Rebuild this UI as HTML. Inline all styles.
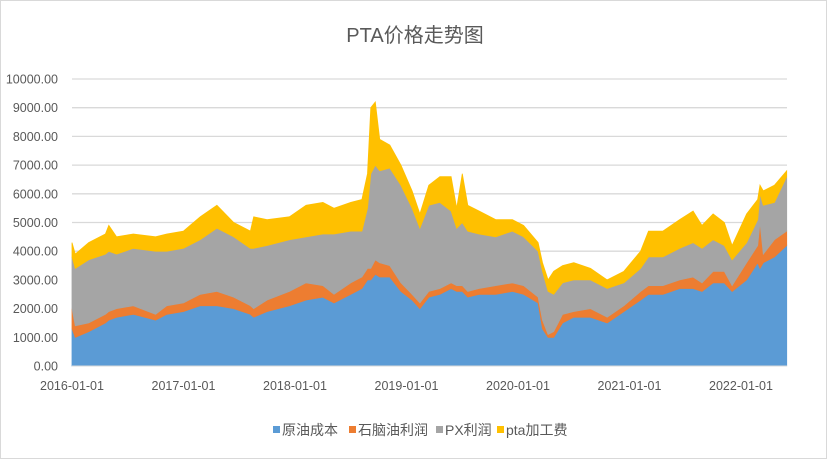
<!DOCTYPE html>
<html><head><meta charset="utf-8"><style>
html,body{margin:0;padding:0;background:#fff;}
#wrap{position:relative;width:832px;height:460px;overflow:hidden;font-family:"Liberation Sans","Noto Sans CJK SC",sans-serif;}
</style></head><body>
<div id="wrap">
<svg id="chart" width="832" height="460" xmlns="http://www.w3.org/2000/svg">
<rect x="0.5" y="0.5" width="826" height="458" fill="#fff" stroke="#d9d9d9"/>
<text x="415" y="42" text-anchor="middle" font-size="20" fill="#595959" font-family="Liberation Sans, Noto Sans CJK SC, sans-serif">PTA价格走势图</text>
<g id="grid"></g>
<g id="areas"></g>
<g id="yaxis"></g>
<g id="xaxis"></g>
<g id="legend"></g>
</svg>
</div>
<script>
const times = [2016.00,2016.03,2016.15,2016.3,2016.33,2016.4,2016.55,2016.75,2016.85,2017.0,2017.15,2017.3,2017.45,2017.6,2017.63,2017.75,2017.95,2018.1,2018.25,2018.35,2018.5,2018.6,2018.65,2018.68,2018.72,2018.76,2018.85,2018.95,2019.05,2019.12,2019.2,2019.3,2019.4,2019.45,2019.5,2019.55,2019.65,2019.8,2019.95,2020.05,2020.18,2020.22,2020.27,2020.32,2020.4,2020.5,2020.65,2020.8,2020.95,2021.1,2021.17,2021.3,2021.45,2021.57,2021.65,2021.75,2021.85,2021.92,2022.05,2022.15,2022.17,2022.2,2022.3,2022.41];
const crudeCost = [1300,1000,1200,1500,1600,1700,1800,1600,1800,1900,2100,2100,2000,1800,1700,1900,2100,2300,2400,2200,2500,2700,3000,3000,3200,3100,3100,2600,2300,2000,2400,2500,2700,2600,2600,2400,2500,2500,2600,2500,2200,1300,1000,1000,1500,1700,1700,1500,1900,2300,2500,2500,2700,2700,2600,2900,2900,2600,3000,3600,3400,3600,3800,4200];
const naphthaProfit = [700,400,300,300,300,300,300,200,300,300,400,500,400,300,300,400,500,600,400,300,400,400,400,400,500,500,400,300,200,200,200,200,200,200,200,200,200,300,300,300,200,300,100,200,300,200,300,200,200,300,300,300,300,400,300,400,400,200,600,600,1600,300,600,500];
const pxProfit = [1800,2000,2200,2100,2100,1900,2000,2200,1900,1900,1900,2200,2100,2000,2100,1900,1800,1600,1800,2100,1800,1600,2100,3300,3300,3200,3400,3400,3000,2600,3000,3000,2500,2000,2200,2100,1900,1700,1800,1700,1600,1700,1500,1300,1100,1100,1000,1000,800,800,1000,1000,1100,1200,1200,1100,900,900,700,900,1000,1700,1300,1900];
const ptaFee = [500,500,600,700,900,600,500,500,600,600,800,800,500,600,1100,900,800,1100,1100,900,1000,1100,1200,2300,2200,1100,800,700,600,500,700,900,1200,700,1700,900,800,600,400,400,300,300,400,800,600,600,400,300,400,600,900,900,1000,1100,800,900,800,500,1000,700,300,500,600,200];
const yTicks = [0,1000,2000,3000,4000,5000,6000,7000,8000,9000,10000];
const xTickLabels = ["2016-01-01","2017-01-01","2018-01-01","2019-01-01","2020-01-01","2021-01-01","2022-01-01"];
const xTickYears = [2016,2017,2018,2019,2020,2021,2022];
const seriesNames = ["原油成本","石脑油利润","PX利润","pta加工费"];
const seriesColors = ["#5b9bd5","#ed7d31","#a5a5a5","#ffc000"];

const NS="http://www.w3.org/2000/svg";
const X0=72, PX_PER_YEAR=111.5, Y0=366, PX_PER_UNIT=28.7/1000;
function xs(t){return X0+(t-2016)*PX_PER_YEAR;}
function ys(v){return Y0-v*PX_PER_UNIT;}
function mk(tag,attrs,parent){const e=document.createElementNS(NS,tag);for(const k in attrs)e.setAttribute(k,attrs[k]);parent.appendChild(e);return e;}

const grid=document.getElementById('grid'), yaxis=document.getElementById('yaxis');
yTicks.forEach(v=>{
  if(v>0){const l=mk('line',{x1:X0,x2:787,y1:ys(v),y2:ys(v),stroke:'#d9d9d9','stroke-width':1.3},grid);
  
  }
  const t=mk('text',{x:58,y:ys(v)+4.5,'text-anchor':'end','font-size':12.5,fill:'#595959'},yaxis);
  
  
  t.textContent=v.toFixed(2);
});

const layers=[crudeCost,naphthaProfit,pxProfit,ptaFee];
const areas=document.getElementById('areas');
let base=times.map(()=>0);
layers.forEach((arr,i)=>{
  const top=base.map((b,j)=>b+arr[j]);
  let d='M'+times.map((t,j)=>xs(t).toFixed(1)+','+ys(top[j]).toFixed(1)).join(' L');
  for(let j=times.length-1;j>=0;j--) d+=' L'+xs(times[j]).toFixed(1)+','+ys(base[j]).toFixed(1);
  d+=' Z';
  const p=mk('path',{d:d,fill:seriesColors[i],stroke:seriesColors[i],'stroke-width':0.8},areas);
  
  
  base=top;
});

const xaxis=document.getElementById('xaxis');
const ax=mk('line',{x1:X0,x2:787,y1:Y0,y2:Y0,stroke:'#d9d9d9','stroke-width':1},xaxis);


xTickLabels.forEach((lab,i)=>{
  const t=mk('text',{x:xs(xTickYears[i]),y:390,'text-anchor':'middle','font-size':12.5,fill:'#595959'},xaxis);
  
  
  t.textContent=lab;
});

const legend=document.getElementById('legend');
const legX=[273,349,436,497];
seriesNames.forEach((n,i)=>{
  const g=mk('g',{},legend);
  
  
  mk('rect',{x:legX[i],y:426,width:7,height:7,fill:seriesColors[i]},g);
  const t=mk('text',{x:legX[i]+9,y:435,'font-size':14,fill:'#595959'},g);
  t.textContent=n;
});
</script>
</body></html>
